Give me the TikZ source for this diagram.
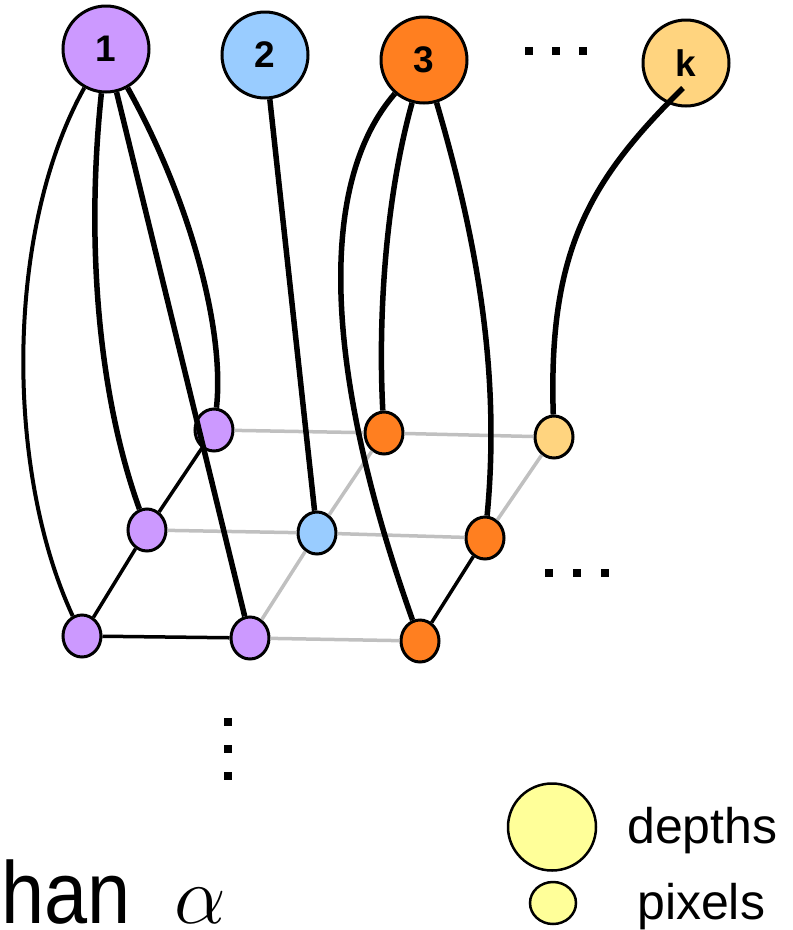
\documentclass[tikz,border=0pt]{standalone}
\usepackage{fontspec}
\setmainfont{Liberation Sans}
\usetikzlibrary{shapes.geometric}

\definecolor{lilac}{HTML}{CC99FF}
\definecolor{skyblue}{HTML}{99CCFF}
\definecolor{tangerine}{HTML}{FF7F20}
\definecolor{apricot}{HTML}{FFD47F}
\definecolor{lemon}{HTML}{FFFF99}
\definecolor{lightgray}{HTML}{C0C0C0}

\begin{document}
\begin{tikzpicture}[x=1pt, y=-1pt,
    depthnode/.style={circle, draw, line width=3pt, minimum size=86pt, inner sep=0pt,
                      font=\fontsize{37}{37}\selectfont\bfseries},
    pixnode/.style={ellipse, draw, line width=3pt, minimum width=38pt, minimum height=42pt, inner sep=0pt},
    link/.style={line width=5.5pt},
    gridline/.style={line width=3.5pt, lightgray},
    legendtext/.style={font=\fontsize{50}{50}\selectfont, anchor=base west, inner sep=0pt}]
    \useasboundingbox (0,0) rectangle (793,930);

    % Depths
    \node[depthnode, fill=lilac] (d1) at (106,49) {1};
    \node[depthnode, fill=skyblue] (d2) at (265,55) {2};
    \node[depthnode, fill=tangerine] (d3) at (424,60) {3};
    \node[depthnode, fill=apricot] (dk) at (686,63) {k};
    \foreach \x in {529,556,583} \fill (\x-4,47) rectangle (\x+4,55);

    % Pixels: back, middle and front rows
    \node[pixnode, fill=lilac] (pb1) at (214,430) {};
    \node[pixnode, fill=tangerine] (pb2) at (384,433) {};
    \node[pixnode, fill=apricot] (pb3) at (554,437) {};
    \node[pixnode, fill=lilac] (pm1) at (147,530) {};
    \node[pixnode, fill=skyblue] (pm2) at (317,533) {};
    \node[pixnode, fill=tangerine] (pm3) at (485,538) {};
    \node[pixnode, fill=lilac] (pf1) at (82,636) {};
    \node[pixnode, fill=lilac] (pf2) at (250,638) {};
    \node[pixnode, fill=tangerine] (pf3) at (420,641) {};
    \foreach \x in {549,577,605} \fill (\x-4,569) rectangle (\x+4,577);
    \foreach \y in {722,749,776} \fill (224,\y-4) rectangle (232,\y+4);

    % Pixel grid
    \draw[gridline] (pb1) -- (pb2) -- (pb3);
    \draw[gridline] (pm1) -- (pm2) -- (pm3);
    \draw[gridline] (pf2) -- (pf3);
    \draw[gridline] (pf2) -- (pm2) -- (pb2);
    \draw[gridline] (pm3) -- (pb3);
    \draw[line width=3.5pt] (pf1) -- (pf2);
    \draw[line width=3.5pt] (pf1) -- (pm1) -- (pb1);
    \draw[line width=3.5pt] (pf3) -- (pm3);

    % Depth to pixel links
    \draw[line width=4pt] (d1) .. controls (5,230) and (5,470) .. (pf1);
    \draw[link] (d1) .. controls (85,250) and (100,400) .. (pm1);
    \draw[link] (d1) -- (pf2);
    \draw[link] (d1) .. controls (190,200) and (225,330) .. (pb1);
    \draw[link] (d2) -- (pm2);
    \draw[link] (d3) .. controls (320,180) and (320,360) .. (pf3);
    \draw[link] (d3) .. controls (385,200) and (378,320) .. (pb2);
    \draw[link] (d3) .. controls (480,250) and (500,380) .. (pm3);
    \coordinate (kin) at (683,88);
    \draw[link] (kin) .. controls (590,180) and (548,250) .. (pb3);

    % Legend
    \node[ellipse, draw, line width=2.5pt, fill=lemon, minimum width=88pt, minimum height=87pt] (ldepth) at (552,827) {};
    \node[ellipse, draw, line width=2.5pt, fill=lemon, minimum width=46pt, minimum height=42pt] (lpixel) at (553,903) {};
    \node[legendtext] (tdepth) at (627,843) {depths};
    \node[legendtext] (tpixel) at (637,919) {pixels};

    % Caption
    \node[font=\fontsize{88}{88}\selectfont, xscale=0.88, anchor=base west, inner sep=0pt] (han) at (1,923) {han};
    \node[font=\Huge, scale=3.3, anchor=base west, inner sep=0pt] (alpha) at (174,923) {$\alpha$};
\end{tikzpicture}
\end{document}
